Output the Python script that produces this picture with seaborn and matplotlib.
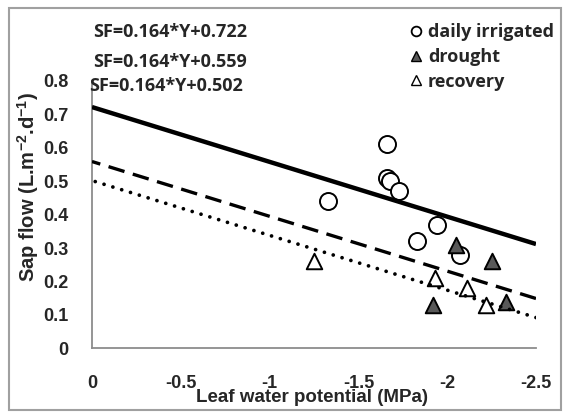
import matplotlib
matplotlib.use("Agg")
import matplotlib.pyplot as plt
from matplotlib.lines import Line2D
from matplotlib.patches import Rectangle
import seaborn as sns
import pandas as pd
import numpy as np

# Leaf water potential (MPa) and sap flow (L m-2 d-1) per treatment
irrigated_lwp = [-1.33, -1.66, -1.66, -1.68, -1.73, -1.83, -1.94, -2.07]
irrigated_sf = [0.44, 0.61, 0.51, 0.50, 0.47, 0.32, 0.37, 0.28]

drought_lwp = [-2.05, -2.25, -1.92, -2.33]
drought_sf = [0.31, 0.26, 0.13, 0.14]

recovery_lwp = [-1.25, -1.93, -2.11, -2.22]
recovery_sf = [0.26, 0.21, 0.18, 0.13]

# Fitted lines SF = slope*Y + intercept
slope = 0.164
intercepts = [0.722, 0.559, 0.502]
equations = ["SF=0.164*Y+0.722", "SF=0.164*Y+0.559", "SF=0.164*Y+0.502"]
line_span = [0.0, -2.5]

x_ticks = [0, -0.5, -1, -1.5, -2, -2.5]
x_tick_labels = ["0", "-0.5", "-1", "-1.5", "-2", "-2.5"]
y_ticks = [0, 0.1, 0.2, 0.3, 0.4, 0.5, 0.6, 0.7, 0.8]
y_tick_labels = ["0", "0.1", "0.2", "0.3", "0.4", "0.5", "0.6", "0.7", "0.8"]

groups = ["daily irrigated", "drought", "recovery"]

sns.set_theme(style="white")
plt.rcParams["font.family"] = ["Liberation Sans", "DejaVu Sans"]
plt.rcParams["mathtext.fontset"] = "custom"
plt.rcParams["mathtext.rm"] = "Liberation Sans:bold"
plt.rcParams["mathtext.bf"] = "Liberation Sans:bold"
plt.rcParams["mathtext.it"] = "Liberation Sans:bold"

df = pd.concat([
    pd.DataFrame({"lwp": irrigated_lwp, "sf": irrigated_sf, "group": groups[0]}),
    pd.DataFrame({"lwp": drought_lwp, "sf": drought_sf, "group": groups[1]}),
    pd.DataFrame({"lwp": recovery_lwp, "sf": recovery_sf, "group": groups[2]}),
], ignore_index=True)

W, H = 564, 412
fig = plt.figure(figsize=(W / 100, H / 100), dpi=100)
ax = fig.add_axes([92 / W, 1 - 348.3 / H, (536 - 92) / W, (348.3 - 81) / H])

axis_gray = "#8c8c8c"
marker_style = {
    "daily irrigated": dict(marker="o", color="white", s=150),
    "drought": dict(marker="^", color="#595959", s=125),
    "recovery": dict(marker="^", color="white", s=125),
}
for g in groups:
    st = marker_style[g]
    sns.scatterplot(data=df[df["group"] == g], x="lwp", y="sf", ax=ax,
                    marker=st["marker"], color=st["color"], s=st["s"],
                    edgecolor="black", linewidth=1.4, zorder=3, legend=False)

# regression lines
line_styles = [
    dict(linestyle="-", linewidth=3.2, solid_capstyle="butt"),
    dict(linestyle=(0, (5.0, 2.6)), linewidth=2.4, dash_capstyle="butt"),
    dict(linestyle=(0, (0.01, 2.45)), linewidth=2.7, dash_capstyle="round"),
]
for b, ls in zip(intercepts, line_styles):
    ys = [slope * x + b for x in line_span]
    sns.lineplot(x=line_span, y=ys, ax=ax, color="black", zorder=4, **ls)

ax.set_xlim(0, -2.5)
ax.set_ylim(0, 0.8)
ax.set_xticks(x_ticks)
ax.set_xticklabels(x_tick_labels, fontweight="bold", fontsize=13)
ax.set_yticks(y_ticks)
ax.set_yticklabels(y_tick_labels, fontweight="bold", fontsize=13)
ax.tick_params(axis="x", direction="out", length=5, width=1.2, color=axis_gray, pad=14)
ax.tick_params(axis="y", direction="in", length=5, width=1.2, color=axis_gray, pad=17)
for side in ["top", "right"]:
    ax.spines[side].set_visible(False)
for side in ["left", "bottom"]:
    ax.spines[side].set_color(axis_gray)
    ax.spines[side].set_linewidth(1.3)
ax.set_xlabel("")
ax.set_ylabel("")
ax.grid(False)

fig.text(312 / W, 1 - 398 / H, "Leaf water potential (MPa)", ha="center", va="center",
         fontsize=13.5, fontweight="bold")
fig.text(28 / W, 1 - 187 / H, "Sap flow (L.m$^{-2}$.d$^{-1}$)", ha="center", va="center",
         rotation=90, fontsize=14.5, fontweight="bold")

eq_font = dict(family=["Open Sans", "DejaVu Sans"], fontweight="bold", fontsize=13)
eq_pos = [(93, 32), (93, 62), (89, 86)]
for (px, py), txt in zip(eq_pos, equations):
    fig.text(px / W, 1 - py / H, txt, ha="left", va="center", **eq_font)

handles = [
    Line2D([], [], linestyle="none", marker="o", markerfacecolor="white",
           markeredgecolor="black", markersize=7, markeredgewidth=1.3),
    Line2D([], [], linestyle="none", marker="^", markerfacecolor="#595959",
           markeredgecolor="black", markersize=7, markeredgewidth=1.0),
    Line2D([], [], linestyle="none", marker="^", markerfacecolor="white",
           markeredgecolor="black", markersize=7, markeredgewidth=1.0),
]
fig.legend(handles, groups, loc="upper left", bbox_to_anchor=(410 / W, 1 - 23 / H),
           frameon=False, handlelength=0.7, handletextpad=0.3, labelspacing=0.38,
           borderaxespad=0, borderpad=0,
           prop=dict(family=["Open Sans", "DejaVu Sans"], weight="bold", size=13))

fig.add_artist(Rectangle((9 / W, 1 - 410 / H), (561 - 9) / W, (410 - 8) / H,
                         transform=fig.transFigure, fill=False,
                         edgecolor="#a0a0a0", linewidth=1.5))

fig.savefig("out.png", dpi=100)
